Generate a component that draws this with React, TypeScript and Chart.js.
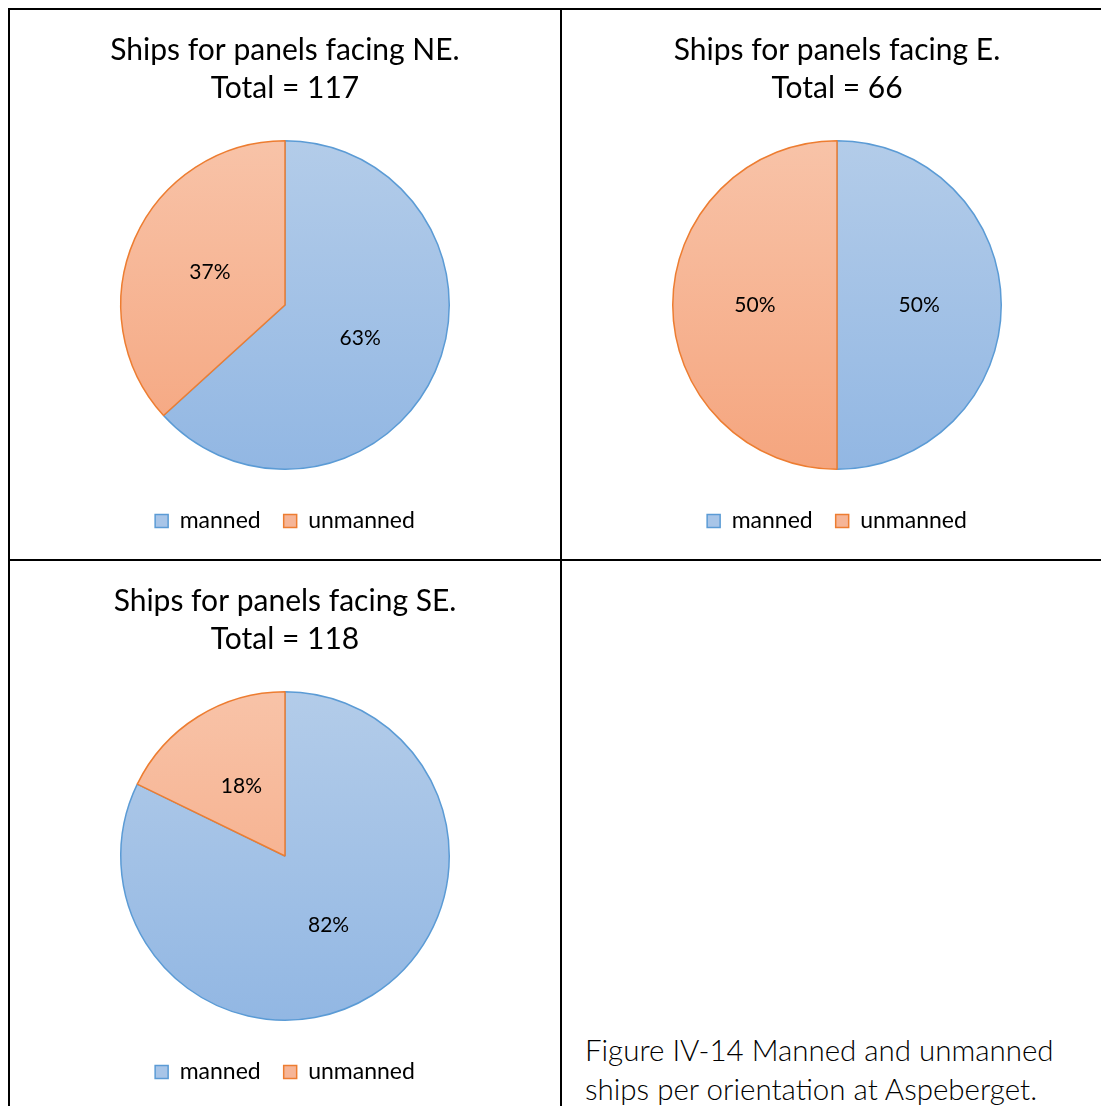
import React, { useEffect, useRef } from "react";
import { Chart, registerables } from "chart.js";

Chart.register(...registerables);

const categories = ["manned", "unmanned"];
const neValues = [74, 43];
const eValues = [33, 33];
const seValues = [97, 21];
const neTitle = ["Ships for panels facing NE.", "Total = 117"];
const eTitle = ["Ships for panels facing E.", "Total = 66"];
const seTitle = ["Ships for panels facing SE.", "Total = 118"];
const captionLines = ["Figure IV-14 Manned and unmanned", "ships per orientation at Aspeberget."];

const FONT = "Lato, 'Open Sans', sans-serif";
const borderColors = ["#5b9bd5", "#ed7d31"];
const gradTop = ["#b3cce9", "#f8c3a8"];
const gradBottom = ["#92b7e3", "#f5a57e"];
const legendFill = ["#a8c5e8", "#f6b597"];

const pctLabels = {
  id: "pctLabels",
  afterDatasetsDraw(chart: any) {
    const ctx = chart.ctx;
    const meta = chart.getDatasetMeta(0);
    const data = chart.data.datasets[0].data as number[];
    const total = data.reduce((a, b) => a + b, 0);
    ctx.save();
    ctx.font = `21px ${FONT}`;
    ctx.fillStyle = "#000";
    ctx.textAlign = "center";
    ctx.textBaseline = "middle";
    meta.data.forEach((arc: any, i: number) => {
      const p = arc.getCenterPoint();
      const pct = Math.round((data[i] / total) * 100);
      ctx.fillText(pct + "%", p.x, p.y);
    });
    ctx.restore();
  },
};

function PieChart({ values, title }: { values: number[]; title: string[] }) {
  const ref = useRef<HTMLCanvasElement>(null);
  useEffect(() => {
    if (!ref.current) return;
    const chart = new Chart(ref.current, {
      type: "pie",
      data: {
        labels: categories,
        datasets: [
          {
            data: values,
            backgroundColor: (c: any) => {
              const area = c.chart.chartArea;
              const i = c.dataIndex ?? 0;
              if (!area) return legendFill[i];
              const g = c.chart.ctx.createLinearGradient(0, area.top, 0, area.bottom);
              g.addColorStop(0, gradTop[i]);
              g.addColorStop(1, gradBottom[i]);
              return g;
            },
            borderColor: borderColors,
            borderWidth: 1.5,
            hoverOffset: 0,
            offset: 0,
          } as any,
        ],
      },
      options: {
        animation: false,
        responsive: false,
        devicePixelRatio: 1,
        layout: { padding: { top: 0, bottom: 16.5, left: 0, right: 0 } },
        plugins: {
          tooltip: { enabled: false },
          title: {
            display: true,
            text: title,
            color: "#000",
            font: { family: FONT, size: 30, weight: "normal", lineHeight: 38 / 30 },
            padding: { top: 21, bottom: 33 },
          },
          legend: {
            position: "bottom",
            title: { display: true, text: "", padding: 0, font: { size: 16.5, lineHeight: 1 } },
            labels: {
              color: "#000",
              font: { family: FONT, size: 23 },
              boxWidth: 13,
              boxHeight: 13,
              padding: 23,
              generateLabels: () =>
                categories.map((t, i) => ({
                  text: t,
                  fillStyle: legendFill[i],
                  strokeStyle: borderColors[i],
                  fontColor: "#000",
                  lineWidth: 1.5,
                  hidden: false,
                  index: i,
                })),
            },
          },
        },
      } as any,
      plugins: [pctLabels],
    });
    return () => chart.destroy();
  }, []);
  return <canvas ref={ref} width={550} height={549} style={{ display: "block" }} />;
}

export default function App() {
  const line = (style: React.CSSProperties) => (
    <div style={{ position: "absolute", background: "#000", ...style }} />
  );
  return (
    <div style={{ position: "fixed", left: 0, top: 0, width: 1101, height: 1106, overflow: "hidden", background: "#fff" }}>
      {line({ left: 8, top: 8, width: 1100, height: 2 })}
      {line({ left: 8, top: 8, width: 2, height: 1100 })}
      {line({ left: 8, top: 559, width: 1100, height: 2 })}
      {line({ left: 560, top: 8, width: 2, height: 1100 })}
      <div style={{ position: "absolute", left: 10, top: 10 }}>
        <PieChart values={neValues} title={neTitle} />
      </div>
      <div style={{ position: "absolute", left: 562, top: 10 }}>
        <PieChart values={eValues} title={eTitle} />
      </div>
      <div style={{ position: "absolute", left: 10, top: 561 }}>
        <PieChart values={seValues} title={seTitle} />
      </div>
      <div
        style={{
          position: "absolute",
          left: 585,
          top: 1030,
          fontFamily: FONT,
          fontWeight: 300,
          fontSize: 29.5,
          lineHeight: "39px",
          color: "#000",
          whiteSpace: "nowrap",
        }}
      >
        {captionLines.map((l) => (
          <div key={l}>{l}</div>
        ))}
      </div>
    </div>
  );
}
